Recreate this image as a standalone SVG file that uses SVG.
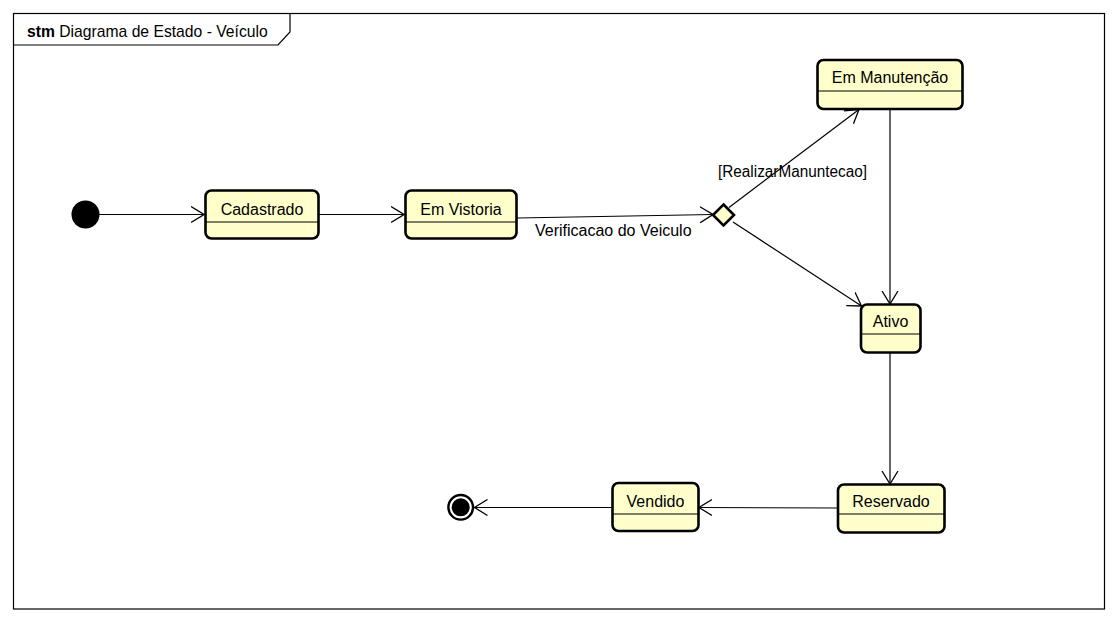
<svg xmlns="http://www.w3.org/2000/svg" width="1117" height="622" viewBox="0 0 1117 622">
<defs>
<marker id="open" viewBox="0 0 14 18" refX="13" refY="9" markerWidth="14" markerHeight="18" markerUnits="userSpaceOnUse" orient="auto">
<path d="M0,1 L13,9 L0,17" fill="none" stroke="#000" stroke-width="1.3"/>
</marker>
</defs>
<style>
text{font-family:"Liberation Sans",Arial,sans-serif;fill:#000}
.lbl{font-size:16px;text-anchor:middle}
.st{fill:#ffffcc;stroke:#000;stroke-width:2.6}
.div{stroke:#000;stroke-width:1.2}
.edge{fill:none;stroke:#000;stroke-width:1.2;marker-end:url(#open)}
.elbl{font-size:16px}
</style>
<rect width="1117" height="622" fill="#fff"/>
<g id="frame">
<rect x="13.5" y="13.5" width="1091" height="595.5" fill="none" stroke="#000" stroke-width="1.2"/>
<path d="M13.5,45 H278 L290,32 V13.5" fill="none" stroke="#000" stroke-width="1.2"/>
<text x="27" y="37" font-size="15.7"><tspan font-weight="bold">stm</tspan> Diagrama de Estado - Veículo</text>
</g>
<g id="connectors">
<line class="edge" x1="99" y1="214.5" x2="204" y2="214.5"/>
<line class="edge" x1="318.5" y1="214.5" x2="404" y2="214.5"/>
<line class="edge" x1="517" y1="218" x2="713" y2="214.5"/>
<line class="edge" x1="729" y1="207.5" x2="859" y2="109.5"/>
<line class="edge" x1="733" y1="222" x2="861.5" y2="306"/>
<line class="edge" x1="890" y1="109.5" x2="890" y2="304"/>
<line class="edge" x1="890" y1="353" x2="890" y2="484"/>
<line class="edge" x1="837" y1="508" x2="699" y2="507.5"/>
<line class="edge" x1="612" y1="507.5" x2="474.5" y2="507.5"/>
<text class="elbl" x="535" y="236">Verificacao do Veiculo</text>
<text class="elbl" x="718" y="177" textLength="149" lengthAdjust="spacingAndGlyphs">[RealizarManuntecao]</text>
</g>
<g id="initial">
<circle cx="85.5" cy="214.5" r="14" fill="#000"/>
</g>
<g id="cadastrado">
<rect class="st" x="205.5" y="190.5" width="113" height="48" rx="6"/>
<line class="div" x1="205.5" y1="222" x2="318.5" y2="222"/>
<text class="lbl" x="262" y="215">Cadastrado</text>
</g>
<g id="em-vistoria">
<rect class="st" x="405.5" y="190.5" width="111" height="48" rx="6"/>
<line class="div" x1="405.5" y1="222" x2="516.5" y2="222"/>
<text class="lbl" x="461" y="215">Em Vistoria</text>
</g>
<g id="choice">
<path d="M723.5,204.5 L734,215 L723.5,225.5 L713,215 Z" fill="#ffffcc" stroke="#000" stroke-width="2.6"/>
</g>
<g id="em-manutencao">
<rect class="st" x="817.5" y="60" width="145" height="49" rx="6"/>
<line class="div" x1="817.5" y1="91" x2="962.5" y2="91"/>
<text class="lbl" x="890" y="83">Em Manutenção</text>
</g>
<g id="ativo">
<rect class="st" x="861" y="304.5" width="59.5" height="48" rx="6"/>
<line class="div" x1="861" y1="334" x2="920.5" y2="334"/>
<text class="lbl" x="890.5" y="327">Ativo</text>
</g>
<g id="reservado">
<rect class="st" x="838" y="484.5" width="106.5" height="48" rx="6"/>
<line class="div" x1="838" y1="514" x2="944.5" y2="514"/>
<text class="lbl" x="891" y="507">Reservado</text>
</g>
<g id="vendido">
<rect class="st" x="612.5" y="483" width="86" height="48" rx="6"/>
<line class="div" x1="612.5" y1="514" x2="698.5" y2="514"/>
<text class="lbl" x="655.5" y="506.5">Vendido</text>
</g>
<g id="final">
<circle cx="460.7" cy="507.3" r="12.3" fill="#fff" stroke="#000" stroke-width="2.4"/>
<circle cx="460.7" cy="507.3" r="9" fill="#000"/>
</g>
</svg>
